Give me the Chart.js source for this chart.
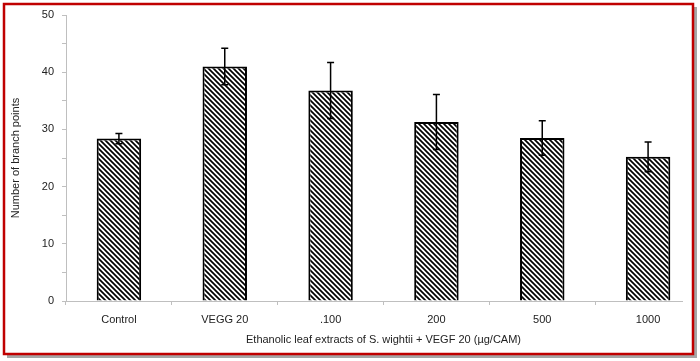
<!DOCTYPE html>
<html>
<head>
<meta charset="utf-8">
<script src="https://cdn.jsdelivr.net/npm/chart.js@4.4.0/dist/chart.umd.min.js"></script>
<style>
  html, body { margin: 0; padding: 0; background: #fff; overflow: hidden; }
  #wrap { position: absolute; left: 0; top: 0; width: 720px; height: 361px; }
</style>
</head>
<body>
<div id="wrap"><canvas id="main"></canvas></div>
<script>
const categories = ['Control', 'VEGG 20', '.100', '200', '500', '1000'];
const means = [28.4, 41.0, 36.8, 31.3, 28.5, 25.2];
const errs = [0.9, 3.2, 4.9, 4.8, 3.0, 2.6];
const yTicks = [0, 10, 20, 30, 40, 50];

const FONT = '"Liberation Sans", Arial, sans-serif';

// diagonal hatch fill like the excel pattern
function makeHatch() {
  const s = 5;
  const c = document.createElement('canvas');
  c.width = s; c.height = s;
  const g = c.getContext('2d');
  g.fillStyle = '#fff';
  g.fillRect(0, 0, s, s);
  g.strokeStyle = '#000';
  g.lineWidth = 1.7;
  g.beginPath();
  g.moveTo(0, 0); g.lineTo(s, s);
  g.moveTo(-1, s - 1); g.lineTo(1, s + 1);
  g.moveTo(s - 1, -1); g.lineTo(s + 1, 1);
  g.stroke();
  return document.getElementById('main').getContext('2d').createPattern(c, 'repeat');
}

const errorBars = {
  id: 'errorBars',
  afterDatasetsDraw(chart) {
    const ctx = chart.ctx;
    const y = chart.scales.y;
    const meta = chart.getDatasetMeta(0);
    ctx.save();
    ctx.strokeStyle = '#000';
    ctx.lineWidth = 1.5;
    meta.data.forEach((bar, i) => {
      const top = y.getPixelForValue(means[i] + errs[i]);
      const bot = y.getPixelForValue(means[i] - errs[i]);
      ctx.beginPath();
      ctx.moveTo(bar.x, top); ctx.lineTo(bar.x, bot);
      ctx.moveTo(bar.x - 3.5, top); ctx.lineTo(bar.x + 3.5, top);
      ctx.moveTo(bar.x - 3.5, bot); ctx.lineTo(bar.x + 3.5, bot);
      ctx.stroke();
    });
    ctx.restore();
  }
};

const frame = {
  id: 'frame',
  afterDraw(chart) {
    const ctx = chart.ctx;
    ctx.save();
    ctx.fillStyle = '#fff';
    ctx.fillRect(683, 0, 40, 361);
    ctx.fillStyle = '#a6a6a6';
    ctx.fillRect(7, 355, 690, 3);
    ctx.fillRect(694, 7, 3, 351);
    ctx.strokeStyle = '#c00000';
    ctx.lineWidth = 2.5;
    ctx.strokeRect(4, 4, 689, 350);
    ctx.restore();
  }
};

new Chart(document.getElementById('main'), {
  type: 'bar',
  data: {
    labels: categories,
    datasets: [{
      data: means,
      backgroundColor: makeHatch(),
      borderColor: '#000',
      borderWidth: 2,
      barPercentage: 0.42,
      categoryPercentage: 1
    }]
  },
  options: {
    responsive: true,
    maintainAspectRatio: false,
    animation: false,
    layout: { padding: { top: 15, right: 19, bottom: 0, left: 0 } },
    plugins: { legend: { display: false }, tooltip: { enabled: false } },
    scales: {
      x: {
        afterFit(s) { s.height = 60; },
        grid: { drawOnChartArea: false, drawTicks: true, tickLength: 4, color: '#bfbfbf', offset: true },
        border: { color: '#bfbfbf', width: 1 },
        ticks: { color: '#222', font: { family: FONT, size: 11 }, padding: 8 },
        title: {
          display: true,
          text: 'Ethanolic leaf extracts of S. wightii + VEGF 20 (µg/CAM)',
          color: '#222',
          font: { family: FONT, size: 11 },
          padding: { top: 4, bottom: 14 }
        }
      },
      y: {
        min: 0,
        max: 50,
        afterFit(s) { s.width = 66; },
        afterBuildTicks(s) {
          s.ticks = [0, 5, 10, 15, 20, 25, 30, 35, 40, 45, 50].map(v => ({ value: v }));
        },
        grid: { drawOnChartArea: false, drawTicks: true, tickLength: 4, color: '#bfbfbf' },
        border: { color: '#bfbfbf', width: 1 },
        ticks: {
          color: '#222',
          font: { family: FONT, size: 11 },
          padding: 8,
          callback: v => (yTicks.includes(v) ? String(v) : '')
        },
        title: {
          display: true,
          text: 'Number of branch points',
          color: '#222',
          font: { family: FONT, size: 11 },
          padding: { top: 9, bottom: 2 }
        }
      }
    }
  },
  plugins: [errorBars, frame]
});
</script>
</body>
</html>
